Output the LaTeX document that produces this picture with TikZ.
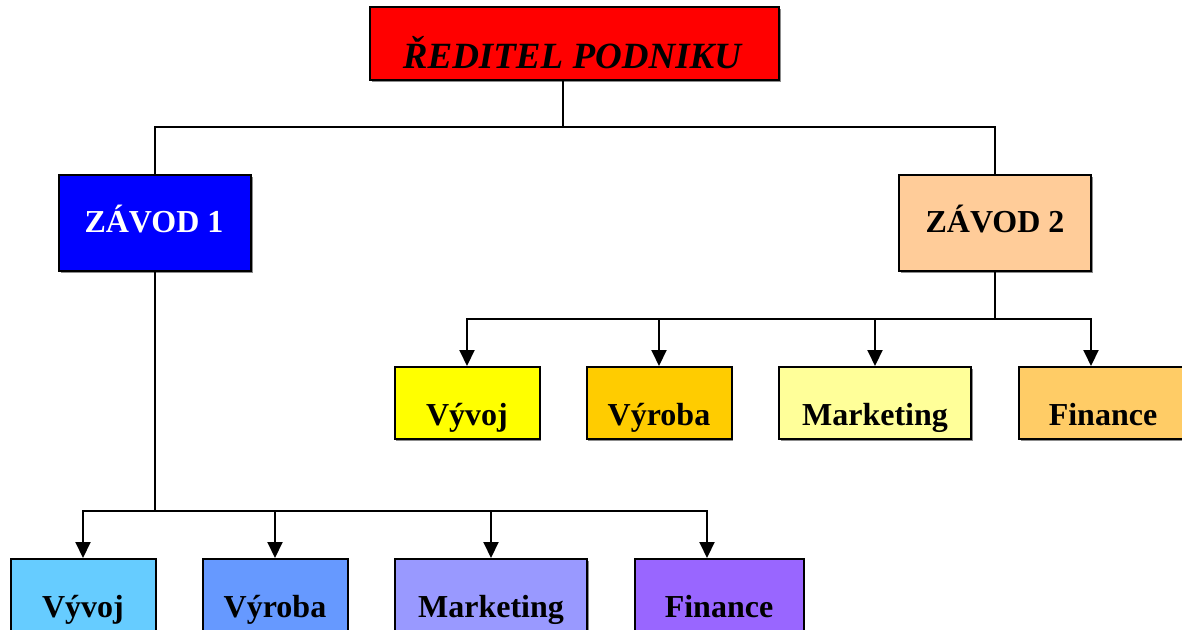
\documentclass[tikz,border=0pt]{standalone}
\usepackage{fontspec}
\setmainfont{Liberation Serif}
\usetikzlibrary{arrows.meta,shadows}
\begin{document}
\begin{tikzpicture}[x=1pt,y=-1pt,
  box/.style={draw=black, line width=2pt, inner sep=0pt, rectangle,
    drop shadow={shadow xshift=1.5pt, shadow yshift=-1.5pt, fill=black!45, opacity=1}},
  conn/.style={line width=2pt, line join=miter},
  arr/.style={conn, -{Triangle[width=15pt,length=16pt]}},
  lbl/.style={anchor=base, font=\fontsize{32}{32}\selectfont\bfseries},
  zlbl/.style={anchor=base, font=\fontsize{32}{32}\selectfont\bfseries}]
\useasboundingbox[fill=white] (0,0) rectangle (1182,629);
\definecolor{cTop}{RGB}{255,0,0}
\definecolor{cZa}{RGB}{0,0,255}
\definecolor{cZb}{RGB}{255,204,153}
\definecolor{cA1}{RGB}{255,255,0}
\definecolor{cA2}{RGB}{255,204,0}
\definecolor{cA3}{RGB}{255,255,153}
\definecolor{cA4}{RGB}{255,204,102}
\definecolor{cB1}{RGB}{102,204,255}
\definecolor{cB2}{RGB}{102,153,255}
\definecolor{cB3}{RGB}{153,153,255}
\definecolor{cB4}{RGB}{153,102,255}
% boxes
\node[box, fill=cTop, minimum width=409pt, minimum height=73pt] (top) at (574.5,43.5) {};
\node[box, fill=cZa, minimum width=192pt, minimum height=96pt] (z1) at (155,223) {};
\node[box, fill=cZb, minimum width=192pt, minimum height=96pt] (z2) at (995,223) {};
\node[box, fill=cA1, minimum width=145pt, minimum height=72pt] (a1) at (467,403) {};
\node[box, fill=cA2, minimum width=145pt, minimum height=72pt] (a2) at (659,403) {};
\node[box, fill=cA3, minimum width=192pt, minimum height=72pt] (a3) at (875,403) {};
\node[box, fill=cA4, minimum width=180pt, minimum height=72pt] (a4) at (1109,403) {};
\node[box, fill=cB1, minimum width=145pt, minimum height=90pt] (b1) at (83,604) {};
\node[box, fill=cB2, minimum width=145pt, minimum height=90pt] (b2) at (275,604) {};
\node[box, fill=cB3, minimum width=192pt, minimum height=90pt] (b3) at (491,604) {};
\node[box, fill=cB4, minimum width=169pt, minimum height=90pt] (b4) at (719,604) {};
% labels
\node[anchor=base, font=\fontsize{37}{37}\selectfont\bfseries\itshape] (ttop) at (572,68) {ŘEDITEL PODNIKU};
\node[zlbl, text=white] (tz1) at (154,232) {ZÁVOD 1};
\node[zlbl] (tz2) at (995,232) {ZÁVOD 2};
\node[lbl] (ta1) at (467,425) {Vývoj};
\node[lbl] (ta2) at (659,425) {Výroba};
\node[lbl] (ta3) at (875,425) {Marketing};
\node[lbl] (ta4) at (1103,425) {Finance};
\node[lbl] (tb1) at (83,617) {Vývoj};
\node[lbl] (tb2) at (275,617) {Výroba};
\node[lbl] (tb3) at (491,617) {Marketing};
\node[lbl] (tb4) at (719,617) {Finance};
% connectors
\coordinate (ts) at ([xshift=-11.5pt]top.south);
\coordinate (j0) at (563,127);
\coordinate (j1) at (155,511);
\coordinate (j2) at (995,319);
\draw[conn] (ts) -- (j0) -| (z1.north);
\draw[conn] (j0) -| (z2.north);
\draw[conn] (z2.south) -- (j2);
\draw[arr] (j2) -| (a1.north);
\draw[arr] (j2) -| (a2.north);
\draw[arr] (j2) -| (a3.north);
\draw[arr] (j2) -| ([xshift=-18pt]a4.north);
\draw[conn] (z1.south) -- (j1);
\draw[arr] (j1) -| (b1.north);
\draw[arr] (j1) -| (b2.north);
\draw[arr] (j1) -| (b3.north);
\draw[arr] (j1) -| ([xshift=-12pt]b4.north);
\end{tikzpicture}
\end{document}
